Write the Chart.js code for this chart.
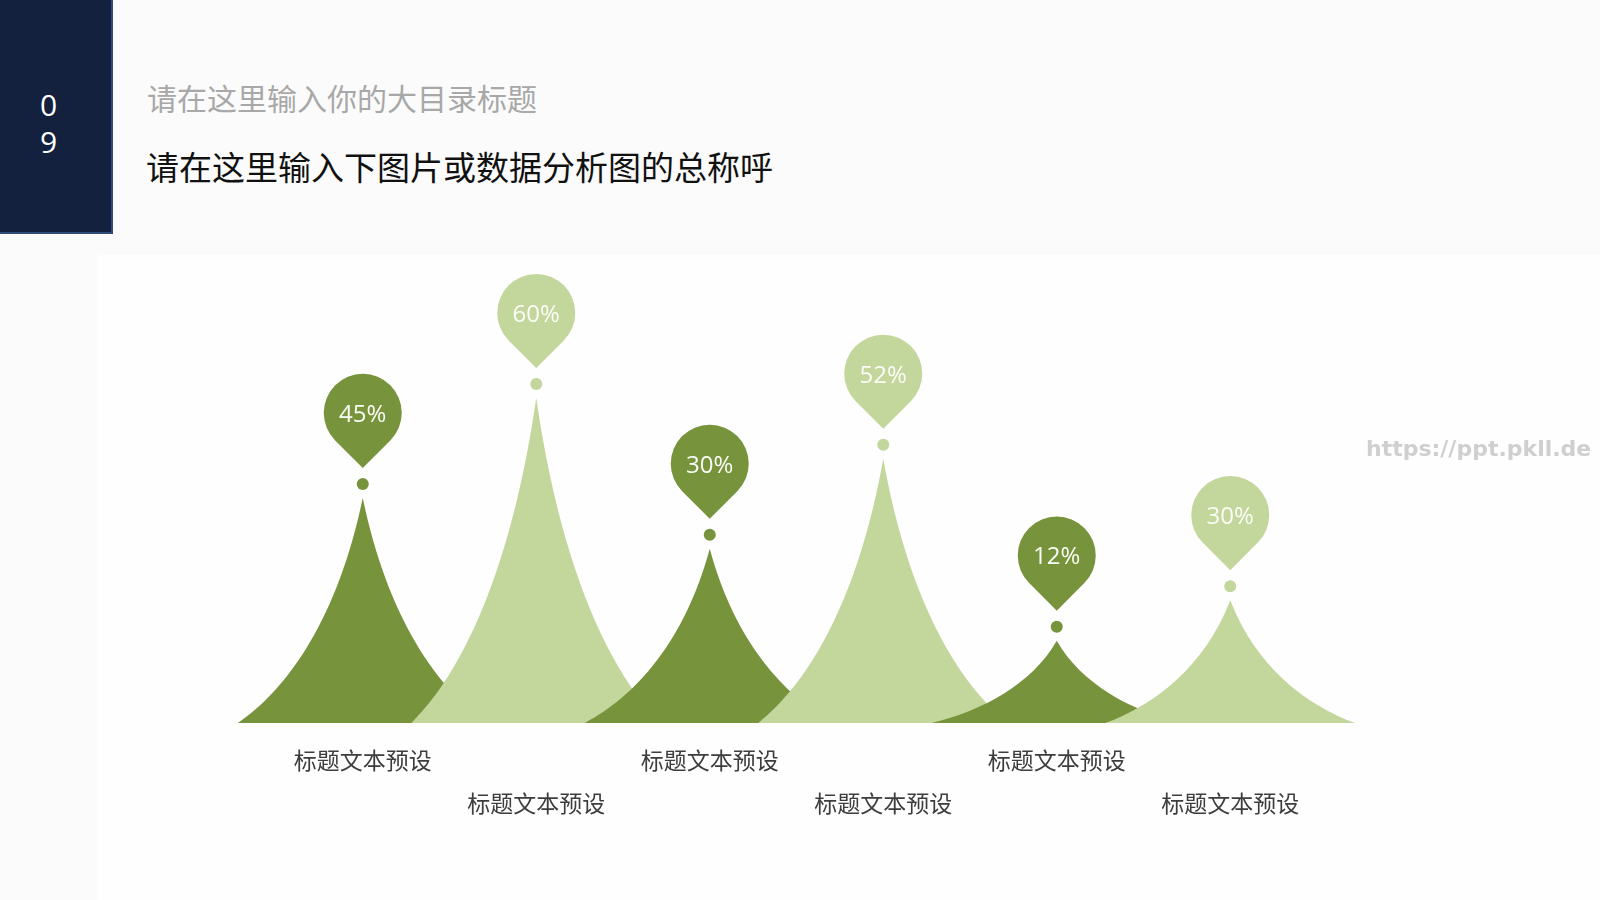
<!DOCTYPE html>
<html lang="zh">
<head>
<meta charset="utf-8">
<script src="https://cdn.jsdelivr.net/npm/chart.js@4.4.1/dist/chart.umd.min.js"></script>
<style>
  html, body { margin: 0; padding: 0; background: #fbfbfb; }
  .slide { position: relative; width: 1600px; height: 900px; overflow: hidden; }
  .panel { position: absolute; left: 97px; top: 255px; right: 0; bottom: 0; background: #fefefe; }
  .num {
    position: absolute; left: 0; top: 0; width: 113px; height: 234px;
    background: #13213e; border-right: 2px solid #2f4c78; border-bottom: 2px solid #2f4c78;
    color: #fff; font: 30px "Open Sans", sans-serif; line-height: 37px;
    text-align: center; box-sizing: border-box; padding-top: 86px; padding-right: 14px;
  }
  .sub {
    position: absolute; left: 147px; top: 76px;
    font: 30px "Noto Sans CJK SC", sans-serif; color: #a8a8a8; line-height: 42px;
  }
  .title {
    position: absolute; left: 146px; top: 143px;
    font: 33px "Noto Sans CJK SC", sans-serif; color: #111; line-height: 46px;
  }
  .mark {
    position: absolute; left: 1366px; top: 435px;
    font: bold 22px "DejaVu Sans", sans-serif; color: #cfcfcf; line-height: 28px;
  }
  canvas { position: absolute; left: 0; top: 0; }
</style>
</head>
<body>
<div class="slide">
  <div class="panel"></div>
  <div class="num">0<br>9</div>
  <div class="sub">请在这里输入你的大目录标题</div>
  <div class="title">请在这里输入下图片或数据分析图的总称呼</div>
  <canvas id="chart" width="1600" height="900"></canvas>
  <div class="mark">https://ppt.pkll.de</div>
</div>
<script>
// data
const categories = ['标题文本预设', '标题文本预设', '标题文本预设', '标题文本预设', '标题文本预设', '标题文本预设'];
const percentLabels = [45, 60, 30, 52, 12, 30];
const peakHeights = [50, 72.2, 38.7, 58.7, 18.3, 27.3];   // peak height, axis 0..100
const peakColors = ['#77933c', '#c3d69b'];

const cjk = '"Noto Sans CJK SC", sans-serif';

// draws the concave peaks, the dot and the pin with its percent text
const peaksPlugin = {
  id: 'peaks',
  beforeDatasetsDraw(chart) {
    const ctx = chart.ctx;
    const xs = chart.scales.x;
    const base = chart.scales.y.getPixelForValue(0);
    const w = (xs.getPixelForValue(1) - xs.getPixelForValue(0)) * 0.72;
    const r = 39;

    chart.getDatasetMeta(0).data.forEach((pt, i) => {
      const x = pt.x, y = pt.y;
      const H = base - y;
      ctx.save();
      ctx.fillStyle = peakColors[i % 2];

      ctx.beginPath();
      ctx.moveTo(x - w, base);
      ctx.bezierCurveTo(x - 0.6 * w, base - 0.15 * H, x - 0.2 * w, base - 0.467 * H, x, y);
      ctx.bezierCurveTo(x + 0.2 * w, base - 0.467 * H, x + 0.6 * w, base - 0.15 * H, x + w, base);
      ctx.closePath();
      ctx.fill();

      const dotY = y - 14;
      ctx.beginPath();
      ctx.arc(x, dotY, 6, 0, Math.PI * 2);
      ctx.fill();

      const tipY = dotY - 16;
      const cy = tipY - r * Math.SQRT2;
      ctx.beginPath();
      ctx.moveTo(x, tipY);
      ctx.arc(x, cy, r, Math.PI * 0.75, Math.PI * 0.25);
      ctx.closePath();
      ctx.fill();

      ctx.fillStyle = '#fbfdf7';
      ctx.font = '24px "Open Sans", sans-serif';
      ctx.textAlign = 'center';
      ctx.textBaseline = 'middle';
      ctx.fillText(percentLabels[i] + '%', x, cy + 2);
      ctx.restore();
    });
  }
};

new Chart(document.getElementById('chart'), {
  type: 'line',
  data: {
    labels: categories,
    datasets: [{
      data: peakHeights,
      showLine: false,
      pointRadius: 0,
      pointHoverRadius: 0,
      borderWidth: 0
    }]
  },
  options: {
    responsive: false,
    animation: false,
    devicePixelRatio: 1,
    layout: { padding: { left: 276, right: 283, top: 273, bottom: 0 } },
    plugins: { legend: { display: false }, tooltip: { enabled: false } },
    scales: {
      x: {
        type: 'category',
        offset: true,
        grid: { display: false, drawTicks: false },
        border: { display: false },
        ticks: {
          autoSkip: false,
          maxRotation: 0,
          padding: 15,
          color: '#3d3d3d',
          font: { family: cjk, size: 23, lineHeight: 1.9 },
          callback: (v, i) => (i % 2 ? ['', categories[i]] : categories[i])
        },
        afterFit: axis => { axis.height = 177; }
      },
      y: { display: false, min: 0, max: 100 }
    }
  },
  plugins: [peaksPlugin]
});
</script>
</body>
</html>
